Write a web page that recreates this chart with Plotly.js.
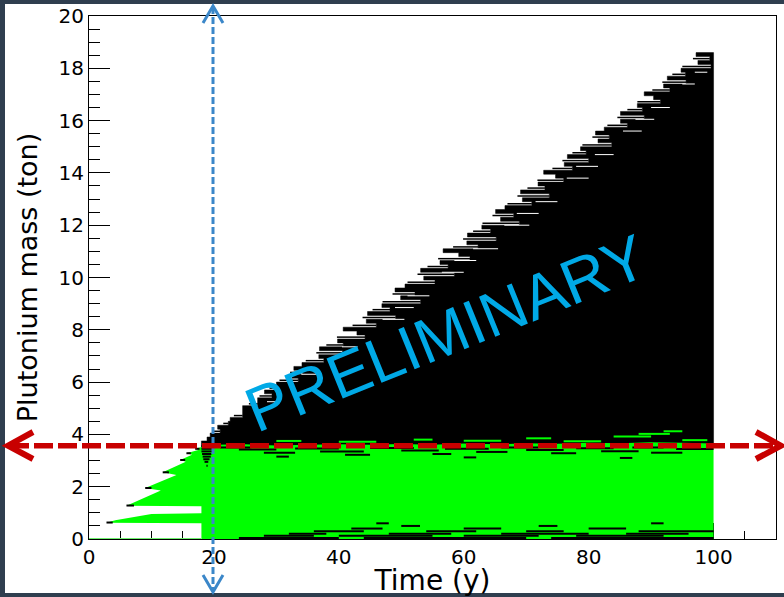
<!DOCTYPE html>
<html><head><meta charset="utf-8">
<script src="https://cdn.plot.ly/plotly-3.0.1.min.js"></script>
<style>
html,body{margin:0;padding:0;background:#2f3e4f;width:784px;height:597px;overflow:hidden}
#panel{position:absolute;left:5px;top:4px;width:779px;height:589px;background:#fff}
#chart{position:absolute;left:0;top:0;width:784px;height:597px}
</style></head><body><div id="panel"></div><div id="chart"></div>
<script>
// ---------- data ----------
// ragged upper edge of the black region: for each thin row (bottom mass value), the leftmost time reached
const edgeRowY = [3.6,3.75,3.9,4.05,4.2,4.35,4.5,4.65,4.8,4.95,5.1,5.25,5.4,5.55,5.7,5.85,6.0,6.15,6.3,6.45,
  6.6,6.75,6.9,7.05,7.2,7.35,7.5,7.65,7.8,7.95,8.1,8.25,8.4,8.55,8.7,8.85,9.0,9.15,9.3,9.45,
  9.6,9.75,9.9,10.05,10.2,10.35,10.5,10.65,10.8,10.95,11.1,11.25,11.4,11.55,11.7,11.85,12.0,12.15,12.3,12.45,
  12.6,12.75,12.9,13.05,13.2,13.35,13.5,13.65,13.8,13.95,14.1,14.25,14.4,14.55,14.7,14.85,15.0,15.15,15.3,15.45,
  15.6,15.75,15.9,16.05,16.2,16.35,16.5,16.65,16.8,16.95,17.1,17.25,17.4,17.55,17.7,17.85,18.0,18.15,18.3,18.45];
const edgeRowX = [18.0,18.9,19.4,21.0,20.6,22.3,22.6,24.6,24.7,24.6,27.0,27.0,29.3,28.1,30.1,30.0,33.5,32.5,34.2,32.8,
  34.1,37.6,36.8,40.6,36.9,40.7,39.8,44.2,42.9,40.7,46.0,44.4,49.1,44.6,48.2,46.9,53.1,49.9,52.2,49.0,
  50.6,55.4,53.6,58.5,53.1,57.5,56.2,61.0,59.2,56.7,62.3,60.5,65.2,60.6,64.3,62.9,68.9,65.9,68.0,65.1,
  66.6,70.9,69.4,73.7,69.1,73.0,71.9,76.0,74.7,72.8,77.4,76.1,80.0,76.6,79.6,78.7,83.7,81.5,83.3,81.1,
  82.5,86.2,85.1,88.9,85.1,88.6,87.8,91.5,90.4,88.9,93.0,92.0,95.6,92.6,95.5,94.8,99.6,97.5,99.4,97.2];
const edgeTop = 18.6;   // highest mass reached at t = 100 y
const edgeBase = 3.5;   // bottom of black region (hidden under green)
const tEnd = 100;       // end of simulation (y)

// thin hairs sticking out left of the ragged edge
const hairY  = [4.12,4.42,4.72,5.17,5.47,5.77,6.07,6.37,6.82,7.12,7.42,7.72,8.17,8.47,8.77,9.07,9.37,9.82,10.12,10.42,
  10.72,11.17,11.47,11.77,12.07,12.37,12.82,13.12,13.42,13.72,14.17,14.47,14.77,15.07,15.37,15.82,16.12,16.42,16.72,17.17,
  17.47,17.77,18.07,18.37];
const hairX0 = [19.9,21.5,23.2,25.6,27.3,28.9,30.5,32.2,34.7,36.4,38.0,39.7,42.2,43.8,45.4,47.0,48.6,51.0,52.6,54.2,
  55.9,58.3,59.9,61.5,63.0,64.6,67.0,68.6,70.2,71.8,74.2,75.8,77.4,79.0,80.6,83.0,84.6,86.2,87.8,90.2,
  91.8,93.4,95.0,96.7];
const hairX1 = [21.0,22.3,24.6,27.0,29.3,30.1,33.5,34.2,37.6,40.6,40.7,44.2,46.0,49.1,48.2,53.1,52.2,55.4,58.5,57.5,
  61.0,62.3,65.2,64.3,68.9,68.0,70.9,73.7,73.0,76.0,77.4,80.0,79.6,83.7,83.3,86.2,88.9,88.6,91.5,93.0,
  95.6,95.5,99.6,99.4];

// fine white gaps inside the ragged fringe
const gapY  = [5.25,6.3,7.35,8.4,9.3,10.2,11.1,12.0,12.9,13.8,14.7,15.6,16.5,17.4,8.85,10.65,12.45,14.25,16.05,17.85];
const gapX0 = [28.5,34.0,40.5,47.0,51.0,56.5,61.5,66.5,71.5,76.5,81.0,85.5,90.0,95.0,49.0,58.5,68.5,78.0,87.5,97.0];
const gapX1 = [30.0,36.5,43.0,50.5,54.5,60.0,65.5,70.5,75.0,80.0,84.0,88.5,93.0,97.0,52.0,62.0,72.0,81.5,90.5,99.0];

// green (below-threshold) region outline incl. the early staircase
const greenX = [18, 18, 2.8, 4.2, 10.0, 18, 18, 6.0, 11.5, 9.0, 14.0, 11.8, 15.5, 14.6, 16.5, 15.6, 17.5, 17.0, 18.5, 20, 25, 30, 35, 40, 45, 50, 55, 60, 65, 70, 75, 80, 85, 90, 95, 100, 100];
const greenY = [0, 0.60, 0.62, 0.72, 0.96, 0.98, 1.25, 1.27, 1.85, 1.95, 2.45, 2.55, 2.95, 3.02, 3.22, 3.28, 3.40, 3.45, 3.55, 3.60, 3.62, 3.58, 3.60, 3.62, 3.60, 3.63, 3.60, 3.65, 3.62, 3.66, 3.64, 3.68, 3.66, 3.70, 3.68, 3.65, 0];

// black streaks inside the green band
const innerY  = [3.55,3.45,3.35,3.25,3.15,3.05,2.95,2.8,
  3.50,3.42,3.30,3.46,3.35,3.22,3.48,3.38,3.25,3.45,3.33,3.50,3.40,3.28,3.47,3.36,3.50,3.30,3.44,3.15,3.12,3.10,
  0.04,0.04,0.04,0.12,0.12,0.12,0.12,0.2,0.2,0.2,0.2,0.3,0.3,0.3,0.3,0.4,0.4,0.4,0.5,0.5,0.6,0.6,
  0.63,1.28,1.95,2.55,3.02,3.28,3.45];
const innerX0 = [18,18,18,18.1,18.2,18.3,18.5,18.8,
  21,24,28,33,37,41,45,50,55,57,62,66,70,74,78,82,87,90,94,30,60,85,
  24,44,74,28,40,60,78,32,48,66,86,36,54,70,88,42,60,80,50,72,46,90,
  2.8,6.0,9.0,11.8,14.6,15.6,17.0];
const innerX1 = [19.8,19.8,19.7,19.6,19.5,19.3,19.1,19.0,
  26,30,33,40,44,45,52,56,58,64,67,72,76,78,84,88,92,95,100,32,62,87,
  40,70,100,36,55,72,92,38,58,80,96,44,62,76,100,47,66,86,53,75,48,92,
  3.8,7.2,10.0,12.8,15.4,16.3,17.7];

// green streaks poking above the band
const greenHairY  = [3.75, 3.80, 3.85, 3.92, 4.02, 4.12, 3.78, 3.72, 3.76, 3.74];
const greenHairX0 = [30, 52, 70, 84, 88, 92, 95, 40, 60, 76];
const greenHairX1 = [34, 55, 74, 90, 93, 95, 99, 46, 66, 82];

// light-green baseline at zero mass
const baseX = [0, 18];
const baseY = [0, 0];

// ---------- build traces ----------
function segs(ys, x0s, x1s) {
  const x = [], y = [];
  for (let i = 0; i < ys.length; i++) { x.push(x0s[i], x1s[i], null); y.push(ys[i], ys[i], null); }
  return {x, y};
}
const rowH = edgeRowY[1] - edgeRowY[0];
const bx = [edgeRowX[0]], by = [edgeBase];
for (let i = 0; i < edgeRowY.length; i++) {
  bx.push(edgeRowX[i], edgeRowX[i]);
  by.push(edgeRowY[i], edgeRowY[i] + rowH);
}
bx.push(tEnd, tEnd); by.push(edgeTop, edgeBase);

const hair = segs(hairY, hairX0, hairX1);
const gaps = segs(gapY, gapX0, gapX1);
const inner = segs(innerY, innerX0, innerX1);
const gHair = segs(greenHairY, greenHairX0, greenHairX1);

const traces = [
  {type:'scatter', mode:'lines', x: bx, y: by, fill:'toself', fillcolor:'#000', line:{width:0.5, color:'#000'}, hoverinfo:'skip'},
  {type:'scatter', mode:'lines', x: hair.x, y: hair.y, line:{width:1.5, color:'#000'}, hoverinfo:'skip'},
  {type:'scatter', mode:'lines', x: gaps.x, y: gaps.y, line:{width:1, color:'#fff'}, hoverinfo:'skip'},
  {type:'scatter', mode:'lines', x: greenX, y: greenY, fill:'toself', fillcolor:'#00ff00', line:{width:0, color:'#00ff00'}, hoverinfo:'skip'},
  {type:'scatter', mode:'lines', x: gHair.x, y: gHair.y, line:{width:2, color:'#00ff00'}, hoverinfo:'skip'},
  {type:'scatter', mode:'lines', x: inner.x, y: inner.y, line:{width:2, color:'#000'}, hoverinfo:'skip'},
  {type:'scatter', mode:'lines', x: baseX, y: baseY, line:{width:2, color:'#6ef06e'}, cliponaxis:false, hoverinfo:'skip'}
];

// page-pixel -> paper helpers for the hand-drawn arrows
const PL = 89, PR = 776, PT = 16, PB = 539;
const px = v => (v - PL) / (PR - PL);
const py = v => (PB - v) / (PB - PT);
const chev = (a, b, c) => `M ${px(a[0])},${py(a[1])} L ${px(b[0])},${py(b[1])} L ${px(c[0])},${py(c[1])}`;

const blue = '#3b87c9', red = '#c80000';
const shapes = [
  {type:'line', xref:'paper', yref:'paper', x0:px(213), x1:px(213), y0:py(7), y1:py(591), line:{color:blue, width:3, dash:'7px,3px'}},
  {type:'path', xref:'paper', yref:'paper', path: chev([203,23],[213,6],[223,23]), line:{color:blue, width:3}},
  {type:'path', xref:'paper', yref:'paper', path: chev([203,575],[213,592],[223,575]), line:{color:blue, width:3}},
  {type:'line', xref:'paper', yref:'paper', x0:px(10), x1:px(779), y0:py(445.7), y1:py(445.7), line:{color:red, width:5.5, dash:'19px,5px'}},
  {type:'path', xref:'paper', yref:'paper', path: chev([33,432],[8,445.7],[33,459]), line:{color:red, width:6}},
  {type:'path', xref:'paper', yref:'paper', path: chev([756,432],[781,445.7],[756,459]), line:{color:red, width:6}}
];

const axisFont = {family:'DejaVu Sans', size:20, color:'#000'};
const layout = {
  width: 784, height: 597,
  margin: {l:89, r:8, t:16, b:58},
  paper_bgcolor:'rgba(0,0,0,0)', plot_bgcolor:'#fff',
  showlegend:false, hovermode:false,
  xaxis: {
    range:[0,110], tick0:0, dtick:20, ticks:'inside', ticklen:16, tickwidth:1, tickcolor:'#000',
    minor:{dtick:5, ticks:'inside', ticklen:8, tickcolor:'#000', tickwidth:1},
    showgrid:false, zeroline:false, showline:true, linecolor:'#000', linewidth:1, mirror:true,
    layer:'below traces', tickfont: axisFont,
    title:{text:'Time (y)', font:{family:'DejaVu Sans', size:28, color:'#000'}, standoff:7}
  },
  yaxis: {
    range:[0,20], tick0:0, dtick:2, ticks:'inside', ticklen:21, tickwidth:1, tickcolor:'#000',
    minor:{dtick:0.5, ticks:'inside', ticklen:11, tickcolor:'#000', tickwidth:1},
    showgrid:false, zeroline:false, showline:true, linecolor:'#000', linewidth:1, mirror:true,
    layer:'below traces', tickfont: axisFont,
    title:{text:'Plutonium mass (ton)', font:{family:'DejaVu Sans', size:27, color:'#000'}, standoff:13}
  },
  shapes: shapes,
  annotations: [{
    xref:'paper', yref:'paper', x:px(446), y:py(333), xanchor:'center', yanchor:'middle',
    text:'PRELIMINARY', showarrow:false, textangle:-22,
    font:{family:'Liberation Sans', size:63, color:'#00a9e6'}
  }]
};

Plotly.newPlot('chart', traces, layout, {displayModeBar:false, staticPlot:true});
</script></body></html>
